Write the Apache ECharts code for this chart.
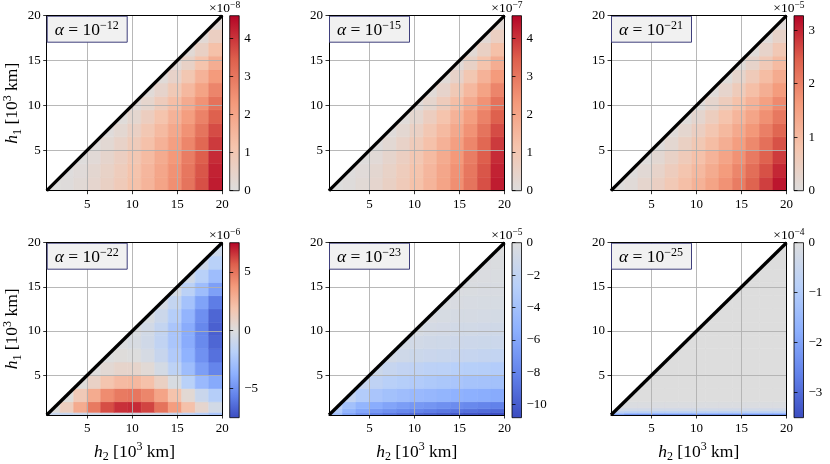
<!DOCTYPE html>
<html>
<head>
<meta charset="utf-8">
<script src="https://cdn.jsdelivr.net/npm/echarts@6/dist/echarts.min.js"></script>
<style>
  html, body { margin: 0; background: #fff; }
  #chart { width: 830px; height: 464px; }
</style>
</head>
<body>
<div id="chart"></div>
<script>
const _ = null;

// axis range and ticks (10^3 km)
const hRange = [0.5, 20];
const hTicks = [5, 10, 15, 20];

// cell edges along h2 (columns), shared by every panel
const h2Edges = [0.5, 2, 3.5, 5, 6.5, 8, 9.5, 11, 12.5, 14, 15.5, 17, 18.5, 20];
// cell edges along h1 (rows, bottom to top)
const h1EdgesTop = [0.5, 2, 3.5, 5, 6.5, 8, 9.5, 11, 12.5, 14, 15.5, 17, 18.5, 20];
const h1EdgesP4 = [0.5, 0.8, 2, 3.5, 5, 6.5, 8, 9.5, 11, 12.5, 14, 15.5, 17, 18.5, 20];
const h1EdgesP5 = [0.5, 0.8, 1.2, 2, 3.5, 5, 6.5, 8, 9.5, 11, 12.5, 14, 15.5, 17, 18.5, 20];
const h1EdgesP6 = [0.5, 0.65, 0.8, 1.0, 1.3, 2, 3.5, 5, 6.5, 8, 9.5, 11, 12.5, 14, 15.5, 17, 18.5, 20];

const alphaExps = ['\u221212', '\u221215', '\u221221', '\u221222', '\u221223', '\u221225'];
const offsetExps = ['\u22128', '\u22127', '\u22125', '\u22126', '\u22125', '\u22124'];
const cbMin = [0, 0, 0, -7.5, -10.8, -3.5];
const cbMax = [4.6, 4.6, 3.27, 7.5, 0, 0];
const cbTicks = [
  [0, 1, 2, 3, 4],
  [0, 1, 2, 3, 4],
  [0, 1, 2, 3],
  [-5, 0, 5],
  [0, -2, -4, -6, -8, -10],
  [0, -1, -2, -3]
];

// values, one row per h1 band (bottom first), one entry per h2 band
const p1 = [
  [0.01, 0.07, 0.19, 0.37, 0.59, 0.87, 1.21, 1.59, 2.03, 2.52, 3.06, 3.65, 4.30],
  [_, 0.03, 0.12, 0.30, 0.52, 0.80, 1.14, 1.52, 1.96, 2.45, 2.99, 3.58, 4.23],
  [_, _, 0.05, 0.17, 0.40, 0.68, 1.01, 1.40, 1.83, 2.32, 2.87, 3.46, 4.11],
  [_, _, _, 0.07, 0.23, 0.51, 0.84, 1.22, 1.66, 2.15, 2.69, 3.29, 3.93],
  [_, _, _, _, 0.08, 0.28, 0.61, 1.00, 1.43, 1.92, 2.46, 3.06, 3.70],
  [_, _, _, _, _, 0.10, 0.33, 0.72, 1.15, 1.64, 2.18, 2.78, 3.43],
  [_, _, _, _, _, _, 0.12, 0.38, 0.82, 1.31, 1.85, 2.45, 3.09],
  [_, _, _, _, _, _, _, 0.14, 0.44, 0.93, 1.47, 2.06, 2.71],
  [_, _, _, _, _, _, _, _, 0.15, 0.49, 1.03, 1.63, 2.27],
  [_, _, _, _, _, _, _, _, _, 0.17, 0.54, 1.14, 1.78],
  [_, _, _, _, _, _, _, _, _, _, 0.19, 0.59, 1.24],
  [_, _, _, _, _, _, _, _, _, _, _, 0.21, 0.65],
  [_, _, _, _, _, _, _, _, _, _, _, _, 0.22]
];
const p2 = [
  [0.01, 0.07, 0.19, 0.37, 0.59, 0.87, 1.21, 1.59, 2.03, 2.52, 3.06, 3.65, 4.30],
  [_, 0.03, 0.12, 0.30, 0.52, 0.80, 1.14, 1.52, 1.96, 2.45, 2.99, 3.58, 4.23],
  [_, _, 0.05, 0.17, 0.40, 0.68, 1.01, 1.40, 1.83, 2.32, 2.87, 3.46, 4.11],
  [_, _, _, 0.07, 0.23, 0.51, 0.84, 1.22, 1.66, 2.15, 2.69, 3.29, 3.93],
  [_, _, _, _, 0.08, 0.28, 0.61, 1.00, 1.43, 1.92, 2.46, 3.06, 3.70],
  [_, _, _, _, _, 0.10, 0.33, 0.72, 1.15, 1.64, 2.18, 2.78, 3.43],
  [_, _, _, _, _, _, 0.12, 0.38, 0.82, 1.31, 1.85, 2.45, 3.09],
  [_, _, _, _, _, _, _, 0.14, 0.44, 0.93, 1.47, 2.06, 2.71],
  [_, _, _, _, _, _, _, _, 0.15, 0.49, 1.03, 1.63, 2.27],
  [_, _, _, _, _, _, _, _, _, 0.17, 0.54, 1.14, 1.78],
  [_, _, _, _, _, _, _, _, _, _, 0.19, 0.59, 1.24],
  [_, _, _, _, _, _, _, _, _, _, _, 0.21, 0.65],
  [_, _, _, _, _, _, _, _, _, _, _, _, 0.22]
];
const p3 = [
  [0.03, 0.11, 0.27, 0.45, 0.67, 0.91, 1.17, 1.45, 1.75, 2.06, 2.40, 2.75, 3.11],
  [_, 0.04, 0.15, 0.33, 0.54, 0.78, 1.03, 1.31, 1.60, 1.92, 2.25, 2.59, 2.96],
  [_, _, 0.05, 0.18, 0.39, 0.62, 0.87, 1.15, 1.44, 1.75, 2.08, 2.42, 2.78],
  [_, _, _, 0.05, 0.21, 0.44, 0.69, 0.96, 1.25, 1.56, 1.88, 2.22, 2.58],
  [_, _, _, _, 0.06, 0.23, 0.48, 0.75, 1.04, 1.34, 1.67, 2.01, 2.36],
  [_, _, _, _, _, 0.06, 0.25, 0.52, 0.81, 1.11, 1.43, 1.77, 2.12],
  [_, _, _, _, _, _, 0.07, 0.27, 0.56, 0.86, 1.18, 1.52, 1.87],
  [_, _, _, _, _, _, _, 0.07, 0.29, 0.59, 0.91, 1.24, 1.60],
  [_, _, _, _, _, _, _, _, 0.08, 0.30, 0.62, 0.96, 1.31],
  [_, _, _, _, _, _, _, _, _, 0.08, 0.32, 0.65, 1.00],
  [_, _, _, _, _, _, _, _, _, _, 0.08, 0.33, 0.68],
  [_, _, _, _, _, _, _, _, _, _, _, 0.09, 0.35],
  [_, _, _, _, _, _, _, _, _, _, _, _, 0.09]
];
const p4 = [
  [-1.0, -1.2, -1.0, -0.8, -0.6, -0.5, -0.5, -0.6, -0.8, -1.2, -1.6, -2.0, -2.5],
  [0.1, 1.2, 3.0, 4.8, 6.0, 6.6, 6.7, 6.2, 5.0, 3.6, 2.0, 0.6, -0.6],
  [_, 0.1, 1.5, 3.0, 4.2, 4.8, 4.9, 4.4, 3.3, 1.9, 0.4, -1.0, -2.0],
  [_, _, 0.1, 0.9, 1.8, 2.3, 2.4, 2.0, 1.0, -0.3, -1.8, -3.2, -4.0],
  [_, _, _, 0.05, 0.4, 0.7, 0.7, 0.3, -0.5, -1.6, -3.0, -4.5, -5.5],
  [_, _, _, _, 0.0, 0.1, 0.0, -0.4, -1.1, -2.2, -3.6, -5.0, -6.2],
  [_, _, _, _, _, -0.1, -0.3, -0.7, -1.4, -2.5, -3.9, -5.3, -6.6],
  [_, _, _, _, _, _, -0.2, -0.6, -1.3, -2.5, -3.9, -5.4, -6.8],
  [_, _, _, _, _, _, _, -0.3, -0.9, -2.0, -3.5, -5.1, -6.6],
  [_, _, _, _, _, _, _, _, -0.4, -1.3, -2.7, -4.3, -5.8],
  [_, _, _, _, _, _, _, _, _, -0.5, -1.7, -3.0, -4.4],
  [_, _, _, _, _, _, _, _, _, _, -0.7, -1.8, -3.0],
  [_, _, _, _, _, _, _, _, _, _, _, -0.8, -1.8],
  [_, _, _, _, _, _, _, _, _, _, _, _, -0.9]
];
const p5 = [
  [-4.0, -6.0, -7.0, -8.0, -8.5, -9.0, -9.3, -9.6, -9.9, -10.1, -10.3, -10.5, -10.7],
  [-3.0, -5.0, -6.0, -6.8, -7.3, -7.7, -8.0, -8.3, -8.6, -8.8, -9.0, -9.2, -9.4],
  [-2.5, -4.0, -5.0, -5.6, -6.1, -6.5, -6.8, -7.0, -7.3, -7.5, -7.7, -7.9, -8.1],
  [_, -2.0, -3.0, -3.6, -4.0, -4.3, -4.6, -4.8, -5.0, -5.2, -5.4, -5.5, -5.7],
  [_, _, -1.6, -2.2, -2.6, -2.9, -3.1, -3.3, -3.5, -3.6, -3.8, -3.9, -4.0],
  [_, _, _, -1.3, -1.7, -2.0, -2.2, -2.4, -2.5, -2.7, -2.8, -2.9, -3.0],
  [_, _, _, _, -0.9, -1.1, -1.3, -1.4, -1.5, -1.6, -1.7, -1.8, -1.9],
  [_, _, _, _, _, -0.7, -0.85, -1.0, -1.1, -1.2, -1.25, -1.3, -1.35],
  [_, _, _, _, _, _, -0.5, -0.65, -0.75, -0.85, -0.9, -0.95, -1.0],
  [_, _, _, _, _, _, _, -0.4, -0.5, -0.55, -0.6, -0.65, -0.7],
  [_, _, _, _, _, _, _, _, -0.3, -0.4, -0.45, -0.5, -0.5],
  [_, _, _, _, _, _, _, _, _, -0.25, -0.3, -0.35, -0.4],
  [_, _, _, _, _, _, _, _, _, _, -0.2, -0.25, -0.3],
  [_, _, _, _, _, _, _, _, _, _, _, -0.15, -0.2],
  [_, _, _, _, _, _, _, _, _, _, _, _, -0.1]
];
const p6 = [
  [-2.0, -2.3, -2.3, -2.3, -2.3, -2.3, -2.3, -2.3, -2.3, -2.3, -2.3, -2.3, -2.3],
  [-1.2, -1.4, -1.4, -1.4, -1.4, -1.4, -1.4, -1.4, -1.4, -1.4, -1.4, -1.4, -1.4],
  [-0.6, -0.7, -0.7, -0.7, -0.7, -0.7, -0.7, -0.7, -0.7, -0.7, -0.7, -0.7, -0.7],
  [-0.3, -0.3, -0.3, -0.3, -0.3, -0.3, -0.3, -0.3, -0.3, -0.3, -0.3, -0.3, -0.3],
  [-0.08, -0.08, -0.08, -0.08, -0.08, -0.08, -0.08, -0.08, -0.08, -0.08, -0.08, -0.08, -0.08],
  [_, 0, 0, 0, 0, 0, 0, 0, 0, 0, 0, 0, 0],
  [_, _, 0, 0, 0, 0, 0, 0, 0, 0, 0, 0, 0],
  [_, _, _, 0, 0, 0, 0, 0, 0, 0, 0, 0, 0],
  [_, _, _, _, 0, 0, 0, 0, 0, 0, 0, 0, 0],
  [_, _, _, _, _, 0, 0, 0, 0, 0, 0, 0, 0],
  [_, _, _, _, _, _, 0, 0, 0, 0, 0, 0, 0],
  [_, _, _, _, _, _, _, 0, 0, 0, 0, 0, 0],
  [_, _, _, _, _, _, _, _, 0, 0, 0, 0, 0],
  [_, _, _, _, _, _, _, _, _, 0, 0, 0, 0],
  [_, _, _, _, _, _, _, _, _, _, 0, 0, 0],
  [_, _, _, _, _, _, _, _, _, _, _, 0, 0],
  [_, _, _, _, _, _, _, _, _, _, _, _, 0]
];

// matplotlib coolwarm
const coolwarm = ['#3b4cc0', '#6282ea', '#8db0fe', '#b8d0f9', '#dddddd', '#f5c4ad', '#f49a7b', '#de604d', '#b40426'];
const warmHalf = coolwarm.slice(4);
const coolHalf = coolwarm.slice(0, 5);

const panels = [
  {rows: h1EdgesTop, values: p1, colors: warmHalf},
  {rows: h1EdgesTop, values: p2, colors: warmHalf},
  {rows: h1EdgesTop, values: p3, colors: warmHalf},
  {rows: h1EdgesP4, values: p4, colors: coolwarm},
  {rows: h1EdgesP5, values: p5, colors: coolHalf},
  {rows: h1EdgesP6, values: p6, colors: coolHalf}
];

const FONT = '"Liberation Serif", "DejaVu Serif", serif';
const W = 830;
const plotLeft = [46.7, 329, 611];
const plotTop = [15.7, 242.7];
const plotW = 175.5, plotH = 175;
const cbGap = 7.5, cbW = 9.5;

const richName = {
  i: {fontFamily: FONT, fontStyle: 'italic', fontSize: 17.5, lineHeight: 22},
  n: {fontFamily: FONT, fontSize: 17.5, lineHeight: 22},
  sb: {fontFamily: FONT, fontSize: 12, verticalAlign: 'bottom', lineHeight: 22},
  sp: {fontFamily: FONT, fontSize: 12, verticalAlign: 'top', lineHeight: 22}
};

// keep the part of a cell below the diagonal h1 = h2
function clipBelowDiagonal(pts) {
  const out = [];
  for (let i = 0; i < pts.length; i++) {
    const a = pts[i], b = pts[(i + 1) % pts.length];
    const da = a[0] - a[1], db = b[0] - b[1];
    if (da >= 0) out.push(a);
    if ((da >= 0) !== (db >= 0)) {
      const t = da / (da - db);
      out.push([a[0] + t * (b[0] - a[0]), a[1] + t * (b[1] - a[1])]);
    }
  }
  return out;
}

function renderCell(params, api) {
  const x0 = api.value(0), x1 = api.value(1), y0 = api.value(2), y1 = api.value(3);
  const poly = clipBelowDiagonal([[x0, y0], [x1, y0], [x1, y1], [x0, y1]]);
  if (poly.length < 3) return;
  const color = api.visual('color');
  return {
    type: 'polygon',
    shape: {points: poly.map(p => api.coord(p))},
    style: {fill: color, stroke: color, lineWidth: 0.6}
  };
}

const fmtTick = v => (v < 0 ? '\u2212' + Math.abs(v) : String(v));

const option = {
  animation: false,
  backgroundColor: '#fff',
  textStyle: {fontFamily: FONT, color: '#000'},
  title: [], grid: [], xAxis: [], yAxis: [], series: [], visualMap: []
};

const mainGrids = [], cbGrids = [];
const mainX = [], cbX = [], mainY = [], cbY = [];

panels.forEach((p, k) => {
  const col = k % 3, row = Math.floor(k / 3);
  const left = plotLeft[col], top = plotTop[row];
  const cbLeft = left + plotW + cbGap;

  mainGrids.push({left: left, top: top, width: plotW, height: plotH});

  const cells = [];
  p.values.forEach((vals, r) => {
    vals.forEach((v, c) => {
      if (v === null) return;
      cells.push([h2Edges[c], h2Edges[c + 1], p.rows[r], p.rows[r + 1], v]);
    });
  });

  // bottom x axis (ticks, labels, grid) + top frame
  mainX.push({
    type: 'value', gridIndex: k, position: 'bottom', min: hRange[0], max: hRange[1], z: 5,
    axisLine: {show: true, onZero: false, lineStyle: {color: '#000', width: 1}},
    axisTick: {show: true, customValues: hTicks, length: 3.5, lineStyle: {color: '#000', width: 0.8}},
    axisLabel: {customValues: hTicks, margin: 7, fontSize: 13, fontFamily: FONT, color: '#000'},
    splitLine: {show: true, lineStyle: {color: '#b0b0b0', width: 0.9}},
    name: row === 1 ? '{i|h}{sb|2}{n| [10}{sp|3}{n| km]}' : '',
    nameLocation: 'middle', nameGap: 26,
    nameTextStyle: {fontFamily: FONT, fontSize: 17.5, color: '#000', rich: richName}
  });
  mainX.push({
    type: 'value', gridIndex: k, position: 'top', min: hRange[0], max: hRange[1], z: 6,
    axisLine: {show: true, onZero: false, lineStyle: {color: '#000', width: 1}},
    axisTick: {show: false}, axisLabel: {show: false}, splitLine: {show: false}
  });
  mainY.push({
    type: 'value', gridIndex: k, position: 'left', min: hRange[0], max: hRange[1], z: 5,
    axisLine: {show: true, onZero: false, lineStyle: {color: '#000', width: 1}},
    axisTick: {show: true, customValues: hTicks, length: 3.5, lineStyle: {color: '#000', width: 0.8}},
    axisLabel: {customValues: hTicks, margin: 6, fontSize: 13, fontFamily: FONT, color: '#000'},
    splitLine: {show: true, lineStyle: {color: '#b0b0b0', width: 0.9}},
    name: col === 0 ? '{i|h}{sb|1}{n| [10}{sp|3}{n| km]}' : '',
    nameLocation: 'middle', nameGap: 23, nameRotate: 90,
    nameTextStyle: {fontFamily: FONT, fontSize: 17.5, color: '#000', rich: richName}
  });
  mainY.push({
    type: 'value', gridIndex: k, position: 'right', min: hRange[0], max: hRange[1], z: 6,
    axisLine: {show: true, onZero: false, lineStyle: {color: '#000', width: 1}},
    axisTick: {show: false}, axisLabel: {show: false}, splitLine: {show: false}
  });

  option.series[k] = {
    type: 'custom', xAxisIndex: 2 * k, yAxisIndex: 2 * k, z: 2, silent: true,
    encode: {x: [0, 1], y: [2, 3]},
    renderItem: renderCell, data: cells
  };
  option.series[6 + k] = {
    type: 'line', xAxisIndex: 2 * k, yAxisIndex: 2 * k, z: 8, silent: true,
    symbol: 'none', lineStyle: {color: '#000', width: 3.3},
    data: [[hRange[0], hRange[0]], [hRange[1], hRange[1]]]
  };

  option.visualMap.push({
    show: false, type: 'continuous', seriesIndex: k, dimension: 4,
    min: cbMin[k], max: cbMax[k], inRange: {color: p.colors}
  });

  // alpha label box
  option.title.push({
    text: '{i|\u03b1}{n| = 10}{sp|' + alphaExps[k] + '}',
    left: left, top: top, padding: [4, 9, 3, 8], itemGap: 0,
    backgroundColor: '#f1f1f1', borderColor: '#3f3f7c', borderWidth: 1,
    textStyle: {fontFamily: FONT, fontSize: 17.5, fontWeight: 'normal', color: '#000', rich: {
      i: {fontFamily: FONT, fontStyle: 'italic', fontWeight: 'normal', fontSize: 17.5, lineHeight: 21},
      n: {fontFamily: FONT, fontWeight: 'normal', fontSize: 17.5, lineHeight: 21},
      sp: {fontFamily: FONT, fontWeight: 'normal', fontSize: 12, verticalAlign: 'top', lineHeight: 21}
    }}
  });
  // colorbar offset text
  option.title.push({
    text: '{n|\u00d710}{sp|' + offsetExps[k] + '}',
    right: W - (cbLeft + cbW) - 1, top: top - 15, padding: 0, itemGap: 0,
    textStyle: {fontFamily: FONT, fontSize: 13.5, fontWeight: 'normal', color: '#000', rich: {
      n: {fontFamily: FONT, fontWeight: 'normal', fontSize: 13.5, lineHeight: 15},
      sp: {fontFamily: FONT, fontWeight: 'normal', fontSize: 9.5, verticalAlign: 'top', lineHeight: 15}
    }}
  });

  // colorbar
  cbGrids.push({left: cbLeft, top: top, width: cbW, height: plotH});
  const stops = p.colors.slice().reverse().map((c, i, arr) => ({offset: i / (arr.length - 1), color: c}));
  cbX.push({type: 'value', gridIndex: 6 + k, min: 0, max: 1, show: false});
  cbY.push({
    type: 'value', gridIndex: 6 + k, position: 'right', min: cbMin[k], max: cbMax[k], z: 5,
    axisLine: {show: false},
    axisTick: {show: true, customValues: cbTicks[k], length: 3.5, lineStyle: {color: '#000', width: 0.8}},
    axisLabel: {customValues: cbTicks[k], margin: 5, fontSize: 13, fontFamily: FONT, color: '#000', formatter: fmtTick},
    splitLine: {show: false}
  });
  option.series[12 + k] = {
    type: 'custom', xAxisIndex: 12 + k, yAxisIndex: 12 + k, silent: true,
    encode: {x: [0, 1], y: [2, 3]},
    data: [[0, 1, cbMin[k], cbMax[k]]],
    renderItem: (params, api) => {
      const a = api.coord([api.value(0), api.value(3)]);
      const b = api.coord([api.value(1), api.value(2)]);
      return {
        type: 'rect',
        shape: {x: a[0], y: a[1], width: b[0] - a[0], height: b[1] - a[1]},
        style: {fill: new echarts.graphic.LinearGradient(0, 0, 0, 1, stops), stroke: '#000', lineWidth: 0.8}
      };
    }
  };
});

// plots first (grids 0..5, axes 0..11), then colorbars (grids 6..11, axes 12..17)
option.grid = mainGrids.concat(cbGrids);
option.xAxis = mainX.concat(cbX);
option.yAxis = mainY.concat(cbY);

const chart = echarts.init(document.getElementById('chart'), null, {renderer: 'canvas'});
chart.setOption(option);
</script>
</body>
</html>
